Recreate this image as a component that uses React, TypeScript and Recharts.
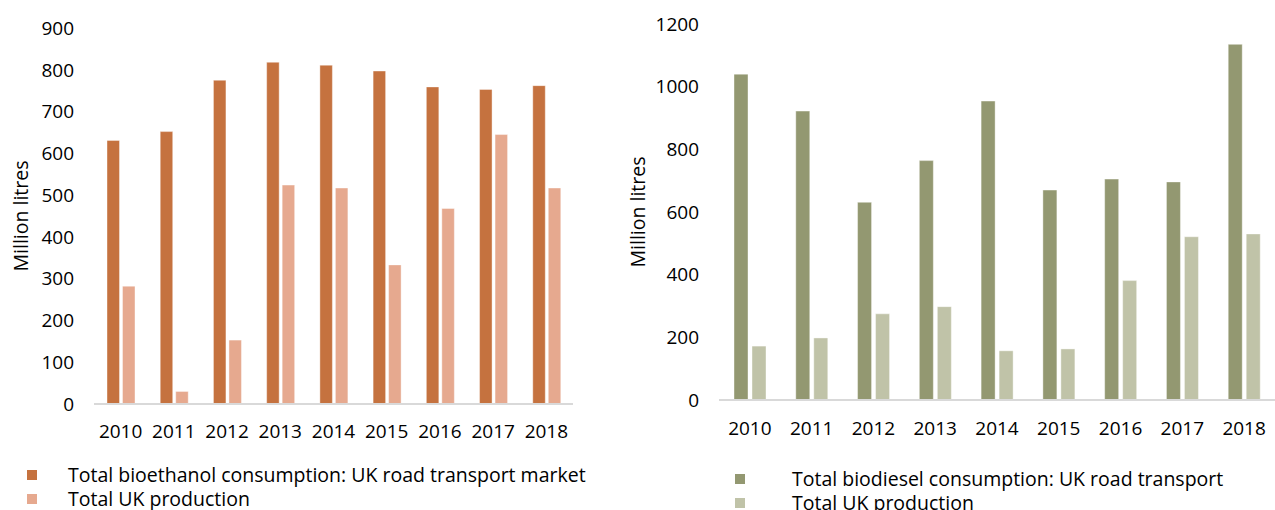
import { BarChart, Bar, XAxis, YAxis } from "recharts";

// ─── Data ───────────────────────────────────────────────────────────────────
const years = ["2010", "2011", "2012", "2013", "2014", "2015", "2016", "2017", "2018"];

const bioethanolConsumption = [631, 652, 775, 818, 811, 797, 759, 753, 762];
const bioethanolProduction = [282, 30, 153, 524, 517, 333, 468, 645, 517];

const biodieselConsumption = [1040, 922, 631, 764, 954, 670, 705, 696, 1135];
const biodieselProduction = [172, 198, 275, 298, 157, 163, 381, 521, 530];

const ethanolTicks = [0, 100, 200, 300, 400, 500, 600, 700, 800, 900];
const dieselTicks = [0, 200, 400, 600, 800, 1000, 1200];

const ethanolSeries = [
  { key: "consumption", name: "Total bioethanol consumption: UK road transport market", color: "#C5723F" },
  { key: "production", name: "Total UK production", color: "#E6A98F" },
];
const dieselSeries = [
  { key: "consumption", name: "Total biodiesel consumption: UK road transport", color: "#939871" },
  { key: "production", name: "Total UK production", color: "#C0C3A8" },
];

const ethanolData = years.map((y, i) => ({ year: y, consumption: bioethanolConsumption[i], production: bioethanolProduction[i] }));
const dieselData = years.map((y, i) => ({ year: y, consumption: biodieselConsumption[i], production: biodieselProduction[i] }));

const FONT = "'Open Sans', 'Noto Sans', sans-serif";
const tickStyle = { fontSize: 19, fill: "#000", fontFamily: FONT };
const titleStyle = { textAnchor: "middle", fontSize: 19.5, fill: "#000", fontFamily: FONT };

// ─── Legend ─────────────────────────────────────────────────────────────────
interface LegendItem { name: string; color: string }
function SquareLegend({ items, left, top, textLeft }: { items: LegendItem[]; left: number; top: number; textLeft: number }) {
  return (
    <div style={{ position: "absolute", left, top, fontFamily: FONT, fontSize: 19.5, color: "#000" }}>
      {items.map((p, i) => (
        <div key={i} style={{ position: "relative", height: 23.5, lineHeight: "23.5px" }}>
          <span style={{ position: "absolute", left: 0, top: 7, width: 10, height: 10, background: p.color }} />
          <span style={{ position: "absolute", left: textLeft, top: 0, whiteSpace: "nowrap" }}>{p.name}</span>
        </div>
      ))}
    </div>
  );
}

export default function App() {
  return (
    <div style={{ position: "absolute", left: 0, top: 0, width: 1275, height: 510, background: "#fff", overflow: "hidden" }}>
      {/* bioethanol */}
      <div style={{ position: "absolute", left: 0, top: 0 }}>
        <BarChart width={620} height={510} data={ethanolData} barSize={12.5} barGap={3}
          margin={{ top: 28, right: 47, left: 0, bottom: 76 }}>
          <XAxis dataKey="year" tick={tickStyle} tickLine={false} tickSize={0} tickMargin={21}
            axisLine={{ stroke: "#D9D9D9", strokeWidth: 2 }} interval={0} />
          <YAxis width={94} domain={[0, 900]} ticks={ethanolTicks} tick={tickStyle} tickLine={false}
            tickSize={0} tickMargin={20} axisLine={false}
            label={{ value: "Million litres", angle: -90, position: "insideLeft", offset: 21, style: titleStyle }} />
          {ethanolSeries.map((s) => (
            <Bar key={s.key} dataKey={s.key} name={s.name} fill={s.color}
              stroke="#fff" strokeOpacity={0.4} isAnimationActive={false} />
          ))}
        </BarChart>
      </div>
      <SquareLegend items={ethanolSeries} left={27} top={463} textLeft={41} />

      {/* biodiesel */}
      <div style={{ position: "absolute", left: 620, top: 0 }}>
        <BarChart width={655} height={510} data={dieselData} barSize={14} barGap={4}
          margin={{ top: 24, right: 0, left: 0, bottom: 80 }}>
          <XAxis dataKey="year" tick={tickStyle} tickLine={false} tickSize={0} tickMargin={22}
            axisLine={{ stroke: "#D9D9D9", strokeWidth: 2 }} interval={0} />
          <YAxis width={99} domain={[0, 1200]} ticks={dieselTicks} tick={tickStyle} tickLine={false}
            tickSize={0} tickMargin={20} axisLine={false}
            label={{ value: "Million litres", angle: -90, position: "insideLeft", offset: 18, style: titleStyle }} />
          {dieselSeries.map((s) => (
            <Bar key={s.key} dataKey={s.key} name={s.name} fill={s.color}
              stroke="#fff" strokeOpacity={0.4} isAnimationActive={false} />
          ))}
        </BarChart>
      </div>
      <SquareLegend items={dieselSeries} left={735} top={467} textLeft={57} />
    </div>
  );
}
